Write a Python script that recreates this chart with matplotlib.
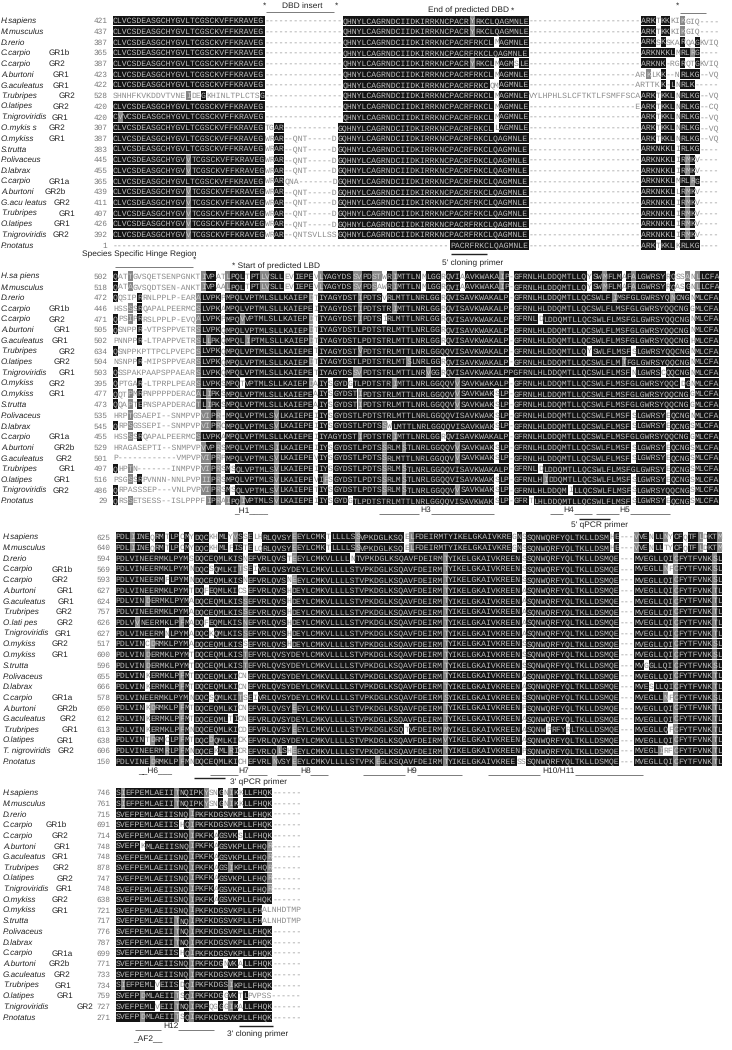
import matplotlib
matplotlib.use('Agg')
import matplotlib.pyplot as plt
from matplotlib.patches import Rectangle
from collections import Counter

plt.rcParams['text.hinting'] = 'none'

# %% data
names_a = ['H.sapiens', 'M.musculus', 'D.rerio', 'C.carpio', 'C.carpio', 'A.burtoni', 'G.aculeatus', 'T.rubripes',
           'O.latipes', 'T.nigroviridis', 'O.mykis s', 'O.mykiss', 'S.trutta', 'P.olivaceus', 'D.labrax', 'C.carpio',
           'A.burtoni', 'G.acu leatus', 'T.rubripes', 'O.latipes', 'T.nigroviridis', 'P.notatus']
names_b = list(names_a)
names_b[0] = 'H.sa piens'
names_b[10] = 'O.mykiss'
names_b[17] = 'G.aculeatus'
names_c = list(names_b)
names_c[0] = 'H.sapiens'
names_c[8] = 'O.lati pes'
names_c[20] = 'T. nigroviridis'
names_d = list(names_c)
names_d[8] = 'O.latipes'
names_d[20] = 'T.nigroviridis'
groups = ['', '', '', 'GR1b', 'GR2', 'GR1', 'GR1', 'GR2', 'GR2', 'GR1', 'GR2', 'GR1', '', '', '', 'GR1a', 'GR2b',
          'GR2', 'GR1', 'GR1', 'GR2', '']

start_a = [421, 437, 387, 365, 387, 423, 422, 528, 420, 420, 307, 387, 383, 445, 455, 365, 439, 411, 407, 426, 392, 1]
start_b = [502, 518, 472, 446, 471, 505, 502, 634, 504, 503, 395, 477, 473, 535, 545, 455, 529, 501, 497, 516, 486, 29]
start_c = [625, 640, 594, 569, 593, 627, 624, 757, 626, 627, 517, 600, 596, 655, 666, 578, 650, 612, 613, 638, 606, 150]
start_d = [746, 761, 715, 691, 714, 748, 748, 878, 747, 748, 638, 721, 717, 776, 787, 699, 771, 733, 734, 759, 727, 271]

# lower case = residue left unshaded in the figure
L_ = 'CLVCSDEASGCHYGVLTCGSCKVFFKRAVEG'
V_ = 'CLVCSDEASGCHYGVVTCGSCKVFFKRAVEG'
G16 = '----------------'
G23 = '-----------------------'
W_ = 'wrAR--qnt-----dG'
DA = 'QHNYLCAGRNDCIIDKIRRKNCPACR'
seq_a = [
    L_ + G16 + DA + 'YRKCLQAGMNLE' + G23 + 'ARKTKKKIKgiq----',
    L_ + G16 + DA + 'YRKCLQAGMNLE' + G23 + 'ARKTKKKIKgiq----',
    L_ + G16 + DA + 'FRKCLMAGMNLE' + G23 + 'ARKSKSKARQAGkviq',
    L_ + G16 + DA + 'FRKCLQAGMNLE' + G23 + 'ARKNKKLMRLRG----',
    L_ + G16 + DA + 'YRKCLMAGMSLE' + G23 + 'ARKNK-RGRQTGkviq',
    L_ + G16 + DA + 'FRKCLMAGMNLE' + G23[:-1] + 'arKLKK--NRLKG--vq',
    L_ + G16 + DA + 'FRKCQMAGMNLE' + G23[:-1] + 'arTTKK-LNRLK-----',
    'shnhfkvkddvtvneIdeGkhinltplctsG' + G16 + DA + 'FRKCLMAGMNLE' + 'vylhphlslcftktlfsmffsca' + 'ARKTKKLNRLKG--vq',
    L_ + G16 + DA + 'FRKCLMAGMNLE' + G23[:-1] + 'eARKTKKLNRLKG--cq',
    'CVVCSDEASGCHYGVLTCGSCKVFFKRAVEG' + G16 + DA + 'FRKCLMAGMNLE' + G23 + 'ARKTKKLNRLKG--vq',
    L_ + 'tgAR-----------G' + DA + 'FRKCLLAGMNLE' + G23 + 'ARKTKKLNRLKG--vq',
    L_ + W_ + DA + 'FRKCLQAGMNLE' + G23 + 'ARKTKKLNRLKG--vq',
    L_ + W_ + DA + 'FRKCLQAGMNLE' + G23 + 'ARKNKKLIRLKG----',
    V_ + W_ + DA + 'FRKCLQAGMNLE' + G23 + 'ARKNKKLIRMKV----',
    V_ + W_ + DA + 'FRKCLQAGMNLE' + G23 + 'ARKNKKLIRMKV----',
    L_ + 'wrARqna-------dG' + DA + 'FRKCLQAGMNLE' + G23 + 'ARKNKKLMRLRG----',
    V_ + W_ + DA + 'FRKCLQAGMNLE' + G23 + 'ARKNKKLLRMKV----',
    V_ + W_ + DA + 'FRKCLQAGMNLE' + G23 + 'ARKNKKLIRMKV----',
    V_ + W_ + DA + 'FRKCLQAGMNLE' + G23 + 'ARKNKKLIRMKV----',
    V_ + W_ + DA + 'FRKCLQAGMNLE' + G23 + 'ARKNKKLIRMKV----',
    V_ + 'wrAR--qntsvllssG' + DA + 'FRKCLQAGMNLE' + G23 + 'ARKNKKLIRMKV----',
    '-------------------------------' + G16 + '----------------------' + 'PACRFRKCLQAGMNLE' + G23 + 'ARKTKKLKRLKG----',
]

seq_b = [
    'Qattgvsqetsenpgnkt' + 'IVPATLPQLTPTLVSLLEVIEPEVLYAGYDSSVPDSTWRIMTTLNMLGGRQVIAAVKWAKAIP-GFRNLHLDDQMTLLQYSWMFLMAFALGWRSYRQSSANLLCFA',
    'Qatagvsqdtsen-ankt' + 'IVPAALPQLTPTLVSLLEVIEPEVLYAGYDSSVPDSAWRIMTTLNMLGGRQVIAAVKWAKAIP-GFRNLHLDDQMTLLQYSWMFLMAFALGWRSYRQASGNLLCFA',
    'Qqsiprrnlpplp-eara' + 'LVPKPMPQLVPTMLSLLKAIEPDTIYAGYDSTIPDTSVRLMTTLNRLGGRQVISAVKWAKALP-GFRNLHLDDQMTLLQCSWLFIMSFGLGWRSYQNCNGNMLCFA',
    'hssssrqapalpeermcs' + 'LVPKAMPQLVPTMLSLLKAIEPEIIYAGYDSTIPDTSTRIMTTLNRLGGRQVISAVKWAKALP-GFRNLHLDDQMTLLQCSWLFLMSFGLGWRSYQQCNGGMLCFA',
    'Qpsiprrslpplp-evqa' + 'LVPKPMPQVVPTMLSLLKAIEPDTIYAGYDSTIPDTSIRLMTTLNRLGGRQVISAVKWAKALP-GFRNLDLDDQMTLLQCSWLFLMSFGLGWRSYQQCNGNMLCFA',
    'Qsnppr-vtpsppvetrs' + 'LVPKQMPQLVPTMLSLLKAIEPDTIYAGYDSTLPDTSTRLMTTLNRLGGRQVISAVKWAKALP-GFRNLHLDDQMTLLQCSWLFLMSFGLGWRSYQQCNGNMLCFA',
    'pnnppr-ltpappvetrs' + 'LLPKQMPQLIPTMLSLLKAIEPDTIYAGYDSTLPDTSTRLMTTLNRLGGRQVISAVKWAKALP-GFRNLHLDDQMTLLQCSWLFLMSFGLGWRSYQQCNGHMLCFA',
    'Qsnppkpttpclpvepcs' + 'LVPKQMPQLVPTMLSLLKAIEPETIYAGYDSTVPDTSTRLMTTLNRLGGQQVISAVKWAKALP-GFRNLHLDDQMTLLQYSWLFLMSFSLGWRSYQQCNGNMLCFA',
    'nsnppr-mipsppvears' + 'LVPKQMPQLVPTMLSLLKAIEPDTIYAGYDSTLPDTSTRLMTSLNRLGGRQVISAVKWAKALP-GFRNLHLDDQMTLLQCSWLFLMTFGLGWRSYQQCNGNMLCFA',
    'Qsspakpaapsppaears' + 'LVPKQMPQLVPTMLSLLKAIEPETIYAGYDSSVPDTSTRLMTTLNRVGGRQVISAVKWAKALPPGFRNLHLDDQMTLLQCSWLFLMSFNLGWRSCQQCNGNMLCFA',
    'Qptgar-ltprplpears' + 'LVPKSMPQTVPTMLSLLKAIEPDAIYSGYDGTLPDTSTRIMTTLNRLGGQQVVSAVKWAKALP-GFRNLHLDDQMTLLQCSWLFLMSFGLGWRSYQQCDGNMLCFA',
    'Qqtpmrpnppppderaca' + 'LIPKSMPQLVPTMLSLLKAIEPEAIYSGYDSTIPDTSTRLMTTLNRLGGQQVVSAVKWAKSLP-GFRNLHLDDQMTLLQCSWLFLMSFGLGWRSYQQCNGGMLCFA',
    'Qqaptepnspapderact' + 'LIPKSMPQLVPTMLSLLKAIEPEAIYSGYDSTIPDTSTRLMTTLNRLGGQQVVSAVKWAKSLP-GFRNLHLDDQMTLLQCSWLFLMSFGLGWRSYQQCNGGMLCFA',
    'hrptgsaepi--snmpvp' + 'VIPR-MPQLVPTMLSVLKAIEPEIIYSGYDSTLPDTSTRLMTTLNRLGGQQVISAVKWAKSLP-GFRNLHLDDQMTLLQCSWLFLMSFSLGWRSYEQCNGNMLCFA',
    'Qrpsgssepi--snmpvp' + 'VIPRCMPQLVPTMLSVLKAIEPEIIYSGYDSTLPDTSSWLMTTLNRLGGQQVISAVKWAKSLP-GFRNLHLDDQMTLLQCSWLFLMSFSLGWRSYEQCNGSMLCFA',
    'hssssrqapalpeermcs' + 'LVPKAMPQLVPTMLSLLKAIEPEIIYAGYDSTIPDTSTRIMTTLNRLGGRQVISAVKWAKALP-GFRNLHLDDQMTLLQCSWLFLMSFGLGWRSYQQCNGGMLCFA',
    'hragasepti--snmpvp' + 'VVPRSMPQLVPTMLSILKAIEPEIIYSGYDSTLPDTSSRLMSTLNRLGGQQVVSAVKWAKSLP-GFRNLHLDDQMTLLQCSWLFLMSFSLGWRSYEQCNGSMLCFA',
    'p------------vmpvp' + 'VIPRPMPQLVPTMLSVLKAIEPEVIYSGYDSTLPDTSSRLMTTLNRLGGQQVVSAVKWAKSLP-GFRNLHLDDQMTLLQCSWLFLMSFSLGWRSYEQCNGSMLCFA',
    'Qhptn-------inmpvp' + 'VIPRSMSQLVPTMLSVLKAIEPEIIYSGYDSTLPDTSSRLMSTLNRLGGQQVISAVKWAKALP-GFRNLDLDDQMTLLQCSWLFLMSFGLGWRSYEQCNGSMLCFA',
    'psgssrpvnnn-nnlpvp' + 'IIPRSMPQLVPTMLSVLKAIEPEVIFSGYDSTLPDTSSRLMSTLNRLGGQQVISAVKWAKSLP-GFRNLHIDDQMTLLQCSWLFLMSFSLGWRSYEQCNGSMLCFA',
    'Qrpasssep---vnlpvp' + 'VIPRSMSQLVPTMLSVLKAIEPETIYSGYDSTLPDTSSRLMSTLNRLGGQQVVSAVKWAKSLP-GFRNLHLDDQMILLQCSWLFLMSFSLGWRSYQQCNGSMLCFA',
    'Qrssetsess--islppp' + 'FIPRAIPQIVPTMLSVLKAIEPEIIYSGYDGTLPDTSTRLMTTLNRLGGQQVISAVKWAKSLP-GFRTLHLDDQMTLLQCSWLFLMSFSLGWRSYEQCNGSMLCFA',
]
# hinge region residues shaded on their own in the figure
hinge_gray_rows = [0, 1, 3, 4, 11, 12, 13, 14, 15, 18, 19, 21]
hinge_black_rows = [2, 3, 4, 5, 6, 8, 10, 11, 12, 15, 19]

TAIL = 'SMQE---MVEGLLQICFYTFVNKTL'
MID_S = 'VPKDGLKSQAVFDEIRMTYIKELGKAIVKREENSSQNWQRFYQLTKLLD'
MID_A = 'VPKDGLKSQAVFDEIRMTYIKELGKAIVKREENASQNWQRFYQLTKLLD'
seq_c = [
    'PDLIINEQRMTLPCMYDQCKHMLYVSSELHRLQVSYEEYLCMKTLLLLSS' + 'VPKDGLKSQELFDEIRMTYIKELGKAIVKREGNSSQNWQRFYQLTKLLD' + 'SMHE---VVENLLNYCFQTFLDKTM',
    'PDLIINEQRMTLPCMYDQCKHMLFISTELQRLQVSYEEYLCMKTLLLLSS' + 'VPKDGLKSQELFDEIRMTYIKELGKAIVKREGNSSQNWQRFYQLTKLLD' + 'SMHE---VVENLLTYCFQTFLDKTM',
    'PDLVINEERMKLPYMSDQCEQMLKISNEFVRLQVSTEEYLCMKVLLLLNT' + MID_S + 'SMQE---MVEGLLQICFYTFVNKSL',
    'PDLVINEERMKLPYMNDQCSQMLKITSEIVRLQVSYDEYLCMKVLLLLST' + MID_S + 'SMQE---MVEGLLNFCFYTFVNKSL',
    'PDLVINEERMFLPYMNDQCEQMLKISNEFVRLQVSNEEYLCMKVLLLLST' + MID_S + 'SMQE---MVEGLLQICFYTFVNKSL',
    'PDLVINEERMKLPYMTDQFEQMLKICSEFVRLQVSHDEYLCMKVLLLLST' + MID_A + TAIL,
    'PDLVINDERMKLPYMADQCEQMLKISSEFVRLQVSHDEYLCMKVLLLLST' + MID_A + TAIL,
    'PDLVINEERMKLPYMADQCEQMLKISSEFVRLQVSHDEYLCMKVLLLLST' + MID_A + TAIL,
    'PDLVVNEERMKLPFMADQFEQMLKISNEFVRLQVSHDEYLCMKVLLLLST' + MID_A + TAIL,
    'PDLVINEERMNLPYMADQCKQMLKISSEFVRLQVSHDEYLCMKVLLLLST' + MID_A + TAIL,
    'PDLVINCDRMKLPYMADQCEQMLKISSEFVRLQVSHDEYLCMKVLLLLST' + MID_S + 'SMQE---MVEGLLQICFYTFVNKSL',
    'PDLVINDERMKLPYMTDQCEQMLKISTEFVRLQVSYDEYLCMKVLLLLST' + MID_S + 'SMQE---MVEGLLQICFYTFVNKSL',
    'PDLVINDERMKLPYMTDQCEQMLKISTEFVRLQVSYDEYLCMKVLLLLST' + MID_S + 'SMQE---MVGGLLQICFYTFVNKSL',
    'PDLVINKERMKLPFMTDQCEQMLKICNEFVRLQVSYDEYLCMKVLLLLST' + MID_A + TAIL,
    'PDLVINKERMKLPFMTDQCEQMLKICNEFVRLQVSYDEYLCMKVLLLLST' + MID_A + 'SMQE---MVESLLQICFYTFVNKTL',
    'PDLVINEERMKLPYMNDQCSQMLKITSEIVRLQVSYDEYLCMKVLLLLST' + 'VPKDGLKSQAVFDEIRMSYIKELGKAIVKREENSSQNWQRFYQLTKLLD' + 'SMQE---MVEGLLNFCFYTFVNKSL',
    'PDLVINKDRMKLPFMTDQCEQMLKICNEFVRLQVSYEEYLCMKVLLLLST' + 'VPKDGLKSQAVFDEIRMTYIKELGKAIVKREENPSQNWQRFYQLTKLLD' + TAIL,
    'PDLVINKERMKLPFMTDQCEQMLTICNEFVRLQVSYDEYLCMKVLLLLST' + MID_A + TAIL,
    'PDLVINKERMKLPFMNDQCEQMLKICDEFVRLQVSYEEYLCMKVLLLLST' + 'VPKDGLKSQTVFDEIRMMYIKELGKAIVKREENASQNWPRFYRLTKLLD' + 'SMQE---MVEGLLQFCFYTFVNKTL',
    'PDLVINTDRMCLPFMTDQCDQMLKICKEFVRLQVSYDEYLCMKVLLLLST' + 'VPKDGLKSQAVFDEIRMVYIKELGKAIVKREENASQNWQRFYQLTKLLD' + TAIL,
    'PDLVINEERMRLPFMNDQCEKMLRICREFVRLQLSHEEYLCMKVLLLLST' + 'VPKDGLKSQAVFDEIRMTYIKELGKAIVKREENPSQNWQRFYQLTKLLD' + 'SMQE---MVEGLIRFCFYTFVNKTL',
    'PDLVINEDRMKLPFMNDQCEQMLKICHEFVRLNVSYEEYLCMKVLLLLST' + 'VPKEGLKSQAVFDEIRMTYIKELGKAIVKREESSSQNWQRFYQLTKLLD' + TAIL,
]

END = '------'
seq_d = [
    'SIEFPEMLAEIITNQIPKYSNGNIKKLLFHQK' + END,
    'SIEFPEMLAEIITNQIPKYSNGNIKKLLFHQK' + END,
    'SVEFPEMLAEIISNQIPKFKDGSVKPLLFHQK' + END,
    'SVEFPEMLAEIISHQIPKFKDGSVKPLLFHQK' + END,
    'SVEFPEMLAEIISNQIPKFKAGSVKSLLFHQK' + END,
    'SVEFPKMLAEIISNQIPKFKAGSVKPLLFHQR' + END,
    'SVEFPEMLAEIISNQIPKFKAGSVKPLLFHQR' + END,
    'SVEFPEMLAEIISNQIPKFKAGSIKPLLFHQR' + END,
    'SVEFPEMLAEIISNQIPKFKAGSVKPLLFHQR' + END,
    'SVEFPEMLAEIISNQIPKFKAGSVKPLLFHQR' + END,
    'SVEFPEMLAEIISNQIPKFKAGSVKPLLFHQK' + END,
    'SVEFPEMLAEIISNQIPKFKDGSVKPLLFHalnhdtmp',
    'SVEFPEMLAEIITNQIPKFKDGSVKPLLFHalnhdtmp',
    'SVEFPEMLAEIITNQIPKFKDGSVKPLLFHQK' + END,
    'SVEFPEMLAEIITNQIPKFKDGSVKPLLFHQK' + END,
    'SVEFPEMLAEIISHQIPKFKDGSVKPLLFHQK' + END,
    'SVEFPEMLAEIISNQIPKFKDGNVKALLFHQK' + END,
    'SVEFPEMLAEIISNQIPKFKDGSVKPLLFHQK' + END,
    'SIEFPEMLVEIISDQIPKFKDGSIKPLLFHQK' + END,
    'SVEFPDMLAEIITSQIPKFKDGGVKTLpvpss' + END,
    'SVEFPEMLVEIITNQIPKFQGGGIKALLFHQK' + END,
    'SVEFPDMLAEIITSQIPKFKDGSVKPLLFHQK' + END,
]

# conserved columns the figure prints in gray: (column, first row, last row)
gray_cols_b = [(17, 2, 12), (17, 15, 15)]
gray_cols_c = [(26, 6, 9), (26, 11, 12), (67, 2, 21), (114, 2, 21), (122, 5, 21)]
gray_cols_d = [(15, 2, 21)]

# %% layout
group_x_a = [0, 0, 0, 49, 49, 53, 53, 59, 53, 52, 49, 49, 0, 0, 0, 49, 45, 54, 59, 54, 53, 0]
group_x_b = [0, 0, 0, 49, 49, 54, 52, 59, 54, 59, 49, 49, 0, 0, 0, 49, 54, 56, 59, 54, 53, 0]
group_x_c = [0, 0, 0, 52, 52, 57, 58, 56, 57, 55, 52, 52, 0, 0, 0, 52, 57, 60, 62, 57, 58, 0]
group_x_d = [0, 0, 0, 46, 52, 54, 52, 53, 57, 56, 52, 52, 0, 0, 0, 52, 49, 54, 55, 57, 77, 0]

CW = 4.89
PITCH = 10.69
BLACK, GRAY = '#141414', '#858585'
SIM = ['ILVM', 'FYW', 'KRH', 'DE', 'NQ', 'ST', 'AG']


def similar(a, b):
    return any(a in s and b in s for s in SIM)


def shade_rows(seqs):
    # box shading against the most common residue of every column
    n = max(len(s) for s in seqs)
    out = []
    for s in seqs:
        out.append([0] * len(s))
    for c in range(n):
        col = [s[c] for s in seqs if c < len(s) and s[c].isupper()]
        if not col:
            continue
        top, k = Counter(col).most_common(1)[0]
        if k < len(col) * 0.5:
            continue
        for r, s in enumerate(seqs):
            if c < len(s) and s[c].isupper():
                if s[c] == top:
                    out[r][c] = 2
                elif similar(s[c], top):
                    out[r][c] = 1
    return out


def add_gray(shades, cols):
    for col, r0, r1 in cols:
        for r in range(r0, r1 + 1):
            shades[r][col] = 1


def draw_block(ax, seqs, names, group_x, starts, x0, y0, num_x, name_x, shades):
    for r, s in enumerate(seqs):
        y = y0 + r * PITCH
        ax.text(name_x, y + 2.8, names[r], family='Liberation Sans', style='italic', fontsize=5.9, color='#222222')
        if groups[r]:
            ax.text(group_x[r], y + 2.8, groups[r], family='Liberation Sans', fontsize=5.9, color='#222222')
        ax.text(num_x, y + 2.8, str(starts[r]), family='Liberation Mono', fontsize=5.6, color='#777777', ha='right')
        c = 0
        while c < len(s):
            e = c
            while e < len(s) and shades[r][e] == shades[r][c]:
                e += 1
            lev = shades[r][c]
            if lev:
                ax.add_patch(Rectangle((x0 + c * CW, y - 4.8), (e - c) * CW, 9.6, fc=BLACK if lev == 2 else GRAY,
                                       ec='none', zorder=1))
            ax.text(x0 + c * CW, y + 2.6, s[c:e].upper(), family='Liberation Mono', fontsize=5.87,
                    color={0: '#8c8c8c', 1: '#d0d0d0', 2: '#bcbcbc'}[lev], zorder=2)
            c = e


fig = plt.figure(figsize=(7.32, 10.5), dpi=100)
ax = fig.add_axes([0, 0, 1, 1])
ax.set_xlim(0, 732)
ax.set_ylim(1050, 0)
ax.axis('off')

shade_a = shade_rows(seq_a)
shade_b = shade_rows(seq_b)
for r in hinge_gray_rows:
    shade_b[r][3] = 1
for r in hinge_black_rows:
    shade_b[r][5] = 2
add_gray(shade_b, gray_cols_b)
shade_c = shade_rows(seq_c)
add_gray(shade_c, gray_cols_c)
shade_d = shade_rows(seq_d)
add_gray(shade_d, gray_cols_d)

draw_block(ax, seq_a, names_a, group_x_a, start_a, 113, 20.5, 107.5, 1, shade_a)
draw_block(ax, seq_b, names_b, group_x_b, start_b, 113, 276, 107.5, 1, shade_b)
draw_block(ax, seq_c, names_c, group_x_c, start_c, 115.7, 536.7, 110, 3, shade_c)
draw_block(ax, seq_d, names_d, group_x_d, start_d, 115.7, 792.3, 110, 3, shade_d)


def note(x, y, s):
    ax.text(x, y, s, family='Liberation Sans', fontsize=6.0, color='#222222', va='center')


def rule(x1, x2, y, dark=False):
    ax.plot([x1, x2], [y, y], color='#222222' if dark else '#666666', lw=1.0 if dark else 0.6,
            solid_capstyle='butt')


# top block
note(263, 5.5, '*')
note(282, 5.5, 'DBD insert')
note(335, 5.5, '*')
rule(266, 334, 11.5)
note(428, 10, 'End of predicted DBD')
note(511, 11, '*')
note(676, 6, '*')
rule(680, 706, 12.5)
note(82, 254.5, 'Species Specific Hinge Region')
rule(115, 193, 266.5)
note(193, 260, '*')
note(232, 266.5, '* Start of predicted LBD')
rule(451, 487, 253.5, True)
note(442, 263, "5' cloning primer")
# second block helices
note(234, 511, '_H1____')
rule(379, 419, 514)
note(420, 510, 'H3')
rule(431, 494, 514)
rule(550, 563, 514)
note(563, 510, 'H4')
rule(574, 592, 514)
rule(596, 619, 514)
note(619, 510, 'H5')
rule(630, 670, 514)
rule(579, 610, 518.5, True)
note(571, 525.5, "5' qPCR primer")
# third block helices
note(138, 771, '__H6___')
rule(210, 238, 774.5)
note(238, 771, 'H7')
rule(248, 267, 774.5)
rule(277, 300, 774.5)
note(300, 771, 'H8')
rule(310, 328, 774.5)
rule(363, 405, 774.5)
note(406, 771, 'H9')
rule(417, 462, 774.5)
rule(488, 540, 774.5)
note(542, 771, 'H10/H11')
rule(575, 643, 774.5)
rule(194, 225, 778, True)
note(230, 782.5, "3' qPCR primer")
# fourth block
rule(135, 161, 1030)
note(163, 1026, 'H12')
rule(178, 214, 1030)
note(133, 1039, '_AF2__')
rule(239, 273, 1025.5, True)
note(227, 1034, "3' cloning primer")

fig.savefig('out.png', dpi=100)
